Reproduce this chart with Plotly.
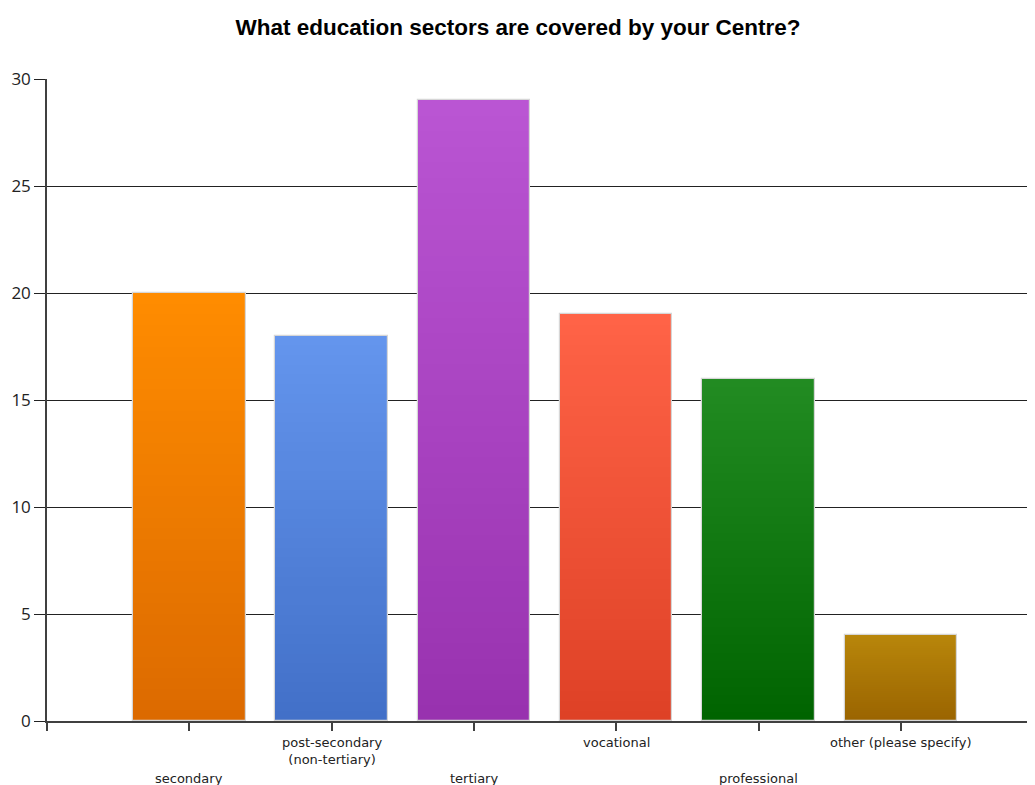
import plotly.graph_objects as go

categories = ["secondary", "post-secondary<br>(non-tertiary)", "tertiary",
              "vocational", "professional", "other (please specify)"]
values = [20, 18, 29, 19, 16, 4]
top_colors = ["#FF8C00", "#6495ED", "#BA55D3", "#FF6347", "#228B22", "#B8860B"]
bottom_colors = ["#DC6A00", "#4270C8", "#9832AF", "#DE4126", "#006400", "#9A6400"]
y_ticks = [0, 5, 10, 15, 20, 25, 30]
title_text = "What education sectors are covered by your Centre?"

positions = list(range(1, len(categories) + 1))


def hex_to_rgb(h):
    h = h.lstrip("#")
    return tuple(int(h[i:i + 2], 16) for i in (0, 2, 4))


def mix(c1, c2, t):
    a, b = hex_to_rgb(c1), hex_to_rgb(c2)
    return "rgb(%d,%d,%d)" % tuple(round(a[i] + (b[i] - a[i]) * t) for i in range(3))


fig = go.Figure()
N = 40
BAR_W = 0.79
for k in range(N):
    frac = 1 - k / N
    t = (k + 0.5) / N
    fig.add_trace(go.Bar(
        x=positions,
        y=[v * frac for v in values],
        width=BAR_W,
        marker=dict(color=[mix(tc, bc, t) for tc, bc in zip(top_colors, bottom_colors)],
                    line=dict(width=0)),
        hoverinfo="skip" if k else None,
        showlegend=False,
    ))
# outline
fig.add_trace(go.Bar(
    x=positions, y=values, width=BAR_W,
    marker=dict(color="rgba(0,0,0,0)", line=dict(color="#D6D6D6", width=1.2)),
    showlegend=False, hoverinfo="skip",
))

# staggered category labels
for i, (p, c) in enumerate(zip(positions, categories)):
    upper = (i % 2 == 1)
    fig.add_annotation(
        x=p, xref="x", y=0, yref="paper",
        text=c, showarrow=False,
        yanchor="top", yshift=-12 if upper else -48,
        font=dict(family="DejaVu Sans", size=13, color="#222222"),
        align="center",
    )

# page has an 8px body margin: shift the figure accordingly
fig.update_layout(
    width=1027, height=777,
    margin=dict(l=39, r=0, t=71, b=64),
    barmode="overlay",
    bargap=0,
    plot_bgcolor="white",
    paper_bgcolor="white",
    title=dict(text="<b>" + title_text + "</b>", x=510 / 1027, xanchor="center",
               y=1 - 19 / 777, yanchor="middle",
               font=dict(family="Liberation Sans", size=22.5, color="black")),
    showlegend=False,
)
fig.update_xaxes(
    range=[0, 6.943],
    tickvals=[0] + positions,
    showticklabels=False,
    ticks="outside", ticklen=8, tickcolor="#404040", tickwidth=1.5,
    showline=True, linecolor="#404040", linewidth=1.5,
    showgrid=False, zeroline=False,
)
fig.update_yaxes(
    range=[0, 30],
    tickvals=y_ticks,
    ticks="outside", ticklen=11, tickcolor="#222222", tickwidth=1,
    showline=True, linecolor="#404040", linewidth=1.5,
    showgrid=True, gridcolor="#222222", gridwidth=1,
    zeroline=False,
    tickfont=dict(family="Open Sans", size=17, color="#222222"),
    ticklabelstandoff=0,
)

fig.write_html("out.html")
